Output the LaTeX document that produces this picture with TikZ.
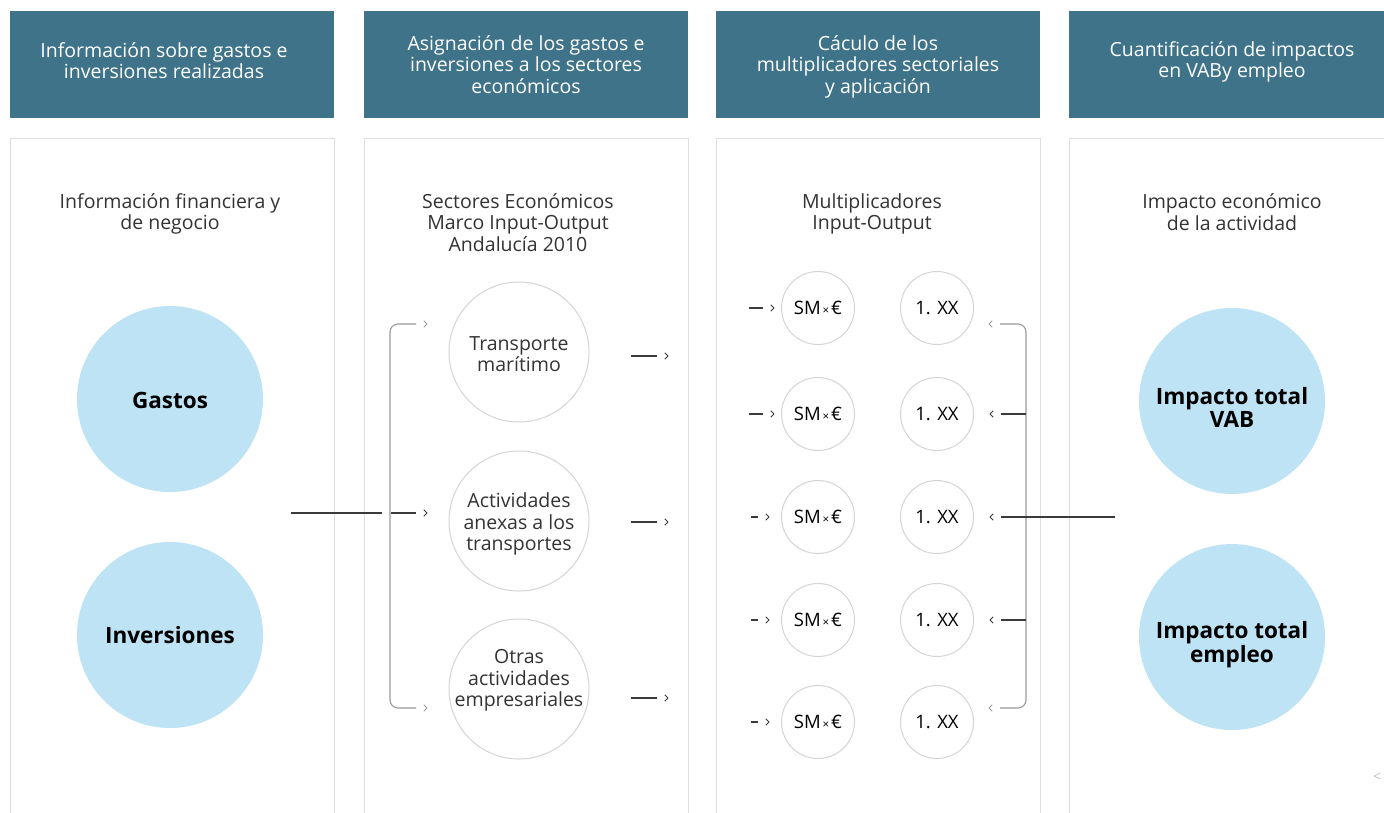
\documentclass[tikz,border=0pt]{standalone}
\usepackage{fontspec}
\setmainfont{Open Sans}
\usetikzlibrary{arrows.meta,calc}
\definecolor{hdrc}{HTML}{3E7389}
\definecolor{bluec}{HTML}{BEE3F4}
\definecolor{panelc}{HTML}{DEDEDE}
\definecolor{circc}{HTML}{D4D4D4}
\definecolor{txtc}{HTML}{333333}
\definecolor{linec}{HTML}{3A3A3A}
\definecolor{brc}{HTML}{9A9A9A}

\pgfdeclarearrow{
  name = GapChev,
  setup code = {
    \pgfarrowssettipend{0pt}
    \pgfarrowssetlineend{-11pt}
    \pgfarrowssetbackend{-11pt}
    \pgfarrowssetvisualbackend{-3pt}
    \pgfarrowsupperhullpoint{0pt}{0pt}
    \pgfarrowsupperhullpoint{-3.2pt}{3.2pt}
  },
  drawing code = {
    \pgfsetlinewidth{1pt}
    \pgfsetroundjoin
    \pgfpathmoveto{\pgfqpoint{-3.2pt}{3.2pt}}
    \pgfpathlineto{\pgfqpoint{0pt}{0pt}}
    \pgfpathlineto{\pgfqpoint{-3.2pt}{-3.2pt}}
    \pgfusepathqstroke
  },
}

\begin{document}
\begin{tikzpicture}[x=1pt,y=-1pt,
  hdrbox/.style={fill=hdrc, draw=none, minimum width=324pt, minimum height=107pt, inner sep=0pt},
  hdrtxt/.style={text=white, align=center, inner sep=0pt, font=\fontsize{19.5}{21.5}\selectfont},
  panelbox/.style={draw=panelc, line width=1pt, fill=white, minimum width=324pt, minimum height=702pt, inner sep=0pt},
  subt/.style={text=txtc, align=center, inner sep=0pt, font=\fontsize{19.5}{21.5}\selectfont},
  bigc/.style={circle, fill=bluec, draw=none, minimum size=186pt, inner sep=0pt},
  bigt/.style={align=center, inner sep=0pt, font=\fontsize{22.5}{21.5}\selectfont\bfseries, text=black},
  secc/.style={circle, draw=circc, line width=1pt, minimum size=140pt, inner sep=0pt},
  sect/.style={align=center, inner sep=0pt, font=\fontsize{19.5}{21.5}\selectfont, text=txtc},
  smc/.style={circle, draw=circc, line width=1pt, minimum size=73pt, inner sep=0pt, align=center,
    font=\fontsize{18.5}{20}\selectfont, text=black},
  conn/.style={draw=linec, line width=1.1pt},
  brk/.style={draw=brc, line width=1.1pt, rounded corners=8pt},
  tip/.style={-{GapChev}},
]
\useasboundingbox (0,0) rectangle (1384,812);
\begin{scope}
\clip (0,0) rectangle (1384,812);
% panels
\node[panelbox] (p1) at (172,489) {};
\node[panelbox] (p2) at (526,489) {};
\node[panelbox] (p3) at (878,489) {};
\node[panelbox] (p4) at (1231,489) {};
% headers
\node[hdrbox] (h1) at (172,64.5) {};
\node[hdrbox] (h2) at (526,64.5) {};
\node[hdrbox] (h3) at (878,64.5) {};
\node[hdrbox] (h4) at (1231,64.5) {};
\end{scope}
\node[hdrtxt] (ht1) at (164,60.5) {Información sobre gastos e\\inversiones realizadas};
\node[hdrtxt] (ht2) at (526,64.5) {Asignación de los gastos e\\inversiones a los sectores\\económicos};
\node[hdrtxt] (ht3) at (878,66.5) {Cáculo de los\\multiplicadores sectoriales\\y aplicación};
\node[hdrtxt] (ht4) at (1232,62) {Cuantificación de impactos\\en VABy empleo};
% subtitles
\node[subt] (s1) at (170,214) {Información financiera y\\de negocio};
\node[subt] (s2) at (518,222.5) {Sectores Económicos\\Marco Input-Output\\Andalucía 2010};
\node[subt] (s3) at (872,214) {Multiplicadores\\Input-Output};
\node[subt] (s4) at (1232,212) {Impacto económico\\de la actividad};
% column 1
\node[bigc] (gastos) at (170,399) {};
\node[bigt] (gastos-t) at (170,400) {Gastos};
\node[bigc] (inv) at (170,635) {};
\node[bigt] (inv-t) at (170,635) {Inversiones};
% column 2
\node[secc] (tm) at (519,352) {};
\node[sect] (tm-t) at (519,354) {Transporte\\marítimo};
\node[secc] (aa) at (519,521) {};
\node[sect] (aa-t) at (519,524) {Actividades\\anexas a los\\transportes};
\node[secc] (oa) at (519,689) {};
\node[sect] (oa-t) at (519,680.5) {Otras\\actividades\\empresariales};
% column 3
\foreach \i/\yy in {1/308,2/414,3/517,4/620,5/722}{
  \node[smc] (sm\i) at (818,\yy) {SM{\fontsize{11.5}{11}\selectfont\,×\,}€};
  \node[smc] (xx\i) at (937,\yy) {1. XX};
}
% column 4
\node[bigc] (vab) at (1232,401) {};
\node[bigt] (vab-t) at (1232,407.5) {Impacto total\\VAB};
\node[bigc] (emp) at (1232,637) {};
\node[bigt] (emp-t) at (1232,644.5) {Impacto total\\empleo};
% corner mark
\node[text=black!25, font=\fontsize{14}{14}\selectfont] (corner) at (1377,777) {<};

% connectors column 1 -> 2
\coordinate (in1a) at (291,513);
\coordinate (in1b) at (382,513);
\draw[conn] (in1a) -- (in1b);
\coordinate (b2t) at (427,324);
\coordinate (b2m) at (427,513);
\coordinate (b2b) at (427,708);
\coordinate (b2v) at (391,513);
\draw[brk, {GapChev}-{GapChev}] (b2t) -- (390,324) -- (390,708) -- (b2b);
\draw[conn, tip] (b2v) -- (b2m);
% column 2 outputs
\coordinate (o1a) at (631,356);
\coordinate (o1b) at (668,356);
\coordinate (o2a) at (631,522);
\coordinate (o2b) at (668,522);
\coordinate (o3a) at (631,698);
\coordinate (o3b) at (668,698);
\draw[conn, tip] (o1a) -- (o1b);
\draw[conn, tip] (o2a) -- (o2b);
\draw[conn, tip] (o3a) -- (o3b);
% column 3 inputs
\coordinate (a1) at (749,308);
\coordinate (a2) at (749,414);
\coordinate (a3) at (751,517);
\coordinate (a4) at (751,620);
\coordinate (a5) at (751,722);
\draw[conn, tip, shorten >=7pt] (a1) -- (sm1);
\draw[conn, tip, shorten >=7pt] (a2) -- (sm2);
\draw[conn, tip, shorten >=12pt] (a3) -- (sm3);
\draw[conn, tip, shorten >=12pt] (a4) -- (sm4);
\draw[conn, tip, shorten >=12pt] (a5) -- (sm5);
% column 3 right bracket
\coordinate (r1) at (989,324);
\coordinate (r5) at (989,708);
\coordinate (r2) at (1026,414);
\coordinate (r4) at (1026,620);
\coordinate (r3) at (1115,517);
\draw[brk, {GapChev}-{GapChev}] (r1) -- (1026,324) -- (1026,708) -- (r5);
\draw[conn, tip, shorten >=16pt] (r2) -- (xx2);
\draw[conn, tip, shorten >=16pt] (r4) -- (xx4);
\draw[conn, tip, shorten >=16pt] (r3) -- (xx3);
\end{tikzpicture}
\end{document}
